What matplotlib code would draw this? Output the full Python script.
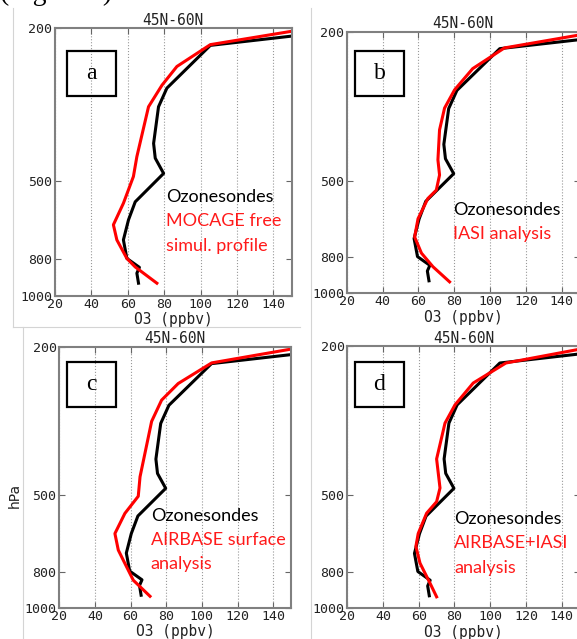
import matplotlib as mpl
mpl.use('Agg')
import matplotlib.pyplot as plt
import matplotlib.patches as mpatches
from matplotlib.lines import Line2D
from matplotlib.ticker import NullLocator

W, H = 577, 639

# ozonesonde profile (same in every panel)
sonde_p = [210, 222, 287, 321, 400, 437, 479, 568, 633, 714, 798, 842, 872, 926]
sonde_o3 = [150, 105.4, 81.5, 76.9, 74.2, 75.1, 79.7, 64.1, 60.4, 57.6, 59.5, 66.4, 65, 65.9]

# model profiles
mocage_p = [204, 221, 252, 282, 321, 433, 488, 573, 652, 714, 798, 840, 926]
mocage_o3 = [150, 105.4, 87, 78.8, 71.4, 65, 63.1, 57.6, 52.1, 54, 59.5, 64.1, 76]

iasi_p = [204, 221, 251, 286, 320, 366, 440, 483, 530, 558, 632, 707, 781, 849, 932]
iasi_o3 = [150, 108, 90.3, 80.2, 74.6, 71.8, 70.9, 71.8, 70, 65.3, 59.8, 57.9, 61.7, 68.1, 77.4]

airbase_p = [203, 221, 251, 278, 317, 446, 503, 559, 633, 701, 761, 844, 932]
airbase_o3 = [150, 105.5, 86.7, 77.4, 71.8, 65.3, 64.3, 56.8, 51.2, 53.1, 56.8, 61.5, 70.9]

both_p = [204, 222, 251, 287, 321, 400, 478, 520, 558, 632, 684, 758, 857, 932]
both_o3 = [150, 108.8, 90.5, 80.3, 74.7, 70, 71.9, 70, 64.4, 59.7, 58.4, 60.7, 66.3, 70]

letters = ['a', 'b', 'c', 'd']
legend_lines = [['MOCAGE free', 'simul. profile'],
                ['IASI analysis'],
                ['AIRBASE surface', 'analysis'],
                ['AIRBASE+IASI', 'analysis']]
models = [(mocage_o3, mocage_p), (iasi_o3, iasi_p), (airbase_o3, airbase_p), (both_o3, both_p)]

yticks = [200, 500, 800, 1000]
xticks = [20, 40, 60, 80, 100, 120, 140]

# axes boxes in pixels: left, right, top, bottom
boxes = [(55, 291.5, 28, 296), (346.7, 579.7, 31.7, 293.3),
         (59.3, 291, 346.7, 607.7), (347.3, 579.5, 346, 608.3)]
# letter box: left, top ; legend text: left x, first baseline
letter_pos = [(66.7, 50.7), (355, 50.7), (66.7, 361.7), (355, 361.7)]
legend_pos = [(165.7, 201.7), (453.3, 215), (150.7, 520.7), (454, 524)]


def fx(x):
    return x / W


def fy(y):
    return 1 - y / H


fig = plt.figure(figsize=(W / 100, H / 100), dpi=100)

mono = 'DejaVu Sans Mono'

for i in range(4):
    l, r, t, b = boxes[i]
    ax = fig.add_axes([fx(l), fy(b), (r - l) / W, (b - t) / H])
    ax.plot(sonde_o3, sonde_p, color='black', lw=2.2)
    ax.plot(models[i][0], models[i][1], color='red', lw=2.2)
    ax.set_yscale('log')
    ax.set_ylim(1000, 200)
    ax.set_xlim(20, 150)
    ax.yaxis.set_minor_locator(NullLocator())
    ax.set_yticks(yticks)
    ax.set_yticklabels([str(v) for v in yticks], family=mono, fontsize=9.5, color='#222222')
    ax.set_xticks(xticks)
    ax.set_xticklabels([str(v) for v in xticks], family=mono, fontsize=9.5, color='#222222')
    ax.tick_params(direction='in', top=True, right=True, length=4, color='#666666',
                   pad=2)
    ax.tick_params(axis='x', pad=1.5)
    ax.grid(axis='x', linestyle=':', color='#999999', lw=0.8)
    for s in ax.spines.values():
        s.set_color('#808080')
        s.set_linewidth(1.5)
    ax.set_title('45N-60N', family=mono, fontsize=10.5, pad=2.5, color='#222222')
    ax.set_xlabel('O3 (ppbv)', family=mono, fontsize=10.5, labelpad=1, color='#222222')

    # letter box
    lx, ly = letter_pos[i]
    rect = mpatches.Rectangle((fx(lx), fy(ly + 45.5)), 49 / W, 45.5 / H,
                              transform=fig.transFigure, fill=False,
                              edgecolor='black', lw=1.6)
    fig.add_artist(rect)
    fig.text(fx(lx + 24.5), fy(ly + 23), letters[i], family='Liberation Serif',
             fontsize=17, ha='center', va='center')

    # legend text
    tx, ty = legend_pos[i]
    fig.text(fx(tx), fy(ty), 'Ozonesondes', family='Lato', fontsize=13,
             color='black', va='baseline')
    for k, line in enumerate(legend_lines[i]):
        fig.text(fx(tx), fy(ty + 24.4 * (k + 1)), line, family='Lato', fontsize=13,
                 color='#ff1a1a', va='baseline')

fig.text(fx(15), fy(495), 'hPa', rotation=90, fontsize=10, ha='center', va='center',
         color='#222222')

# cut-off caption text at the very top
fig.text(fx(0), fy(-0.5), '(Figure 6)', family='Liberation Serif', fontsize=20,
         va='baseline', ha='left')

# faint frame lines of the pasted panels
gray = '#d4d4d4'
for (x0, y0, x1, y1) in [(13, 8, 13, 327), (13, 327, 300, 327), (23, 327, 23, 639),
                         (311, 8, 311, 639)]:
    fig.add_artist(Line2D([fx(x0), fx(x1)], [fy(y0), fy(y1)], color=gray, lw=0.8,
                          transform=fig.transFigure))

fig.savefig('out.png', dpi=100)
